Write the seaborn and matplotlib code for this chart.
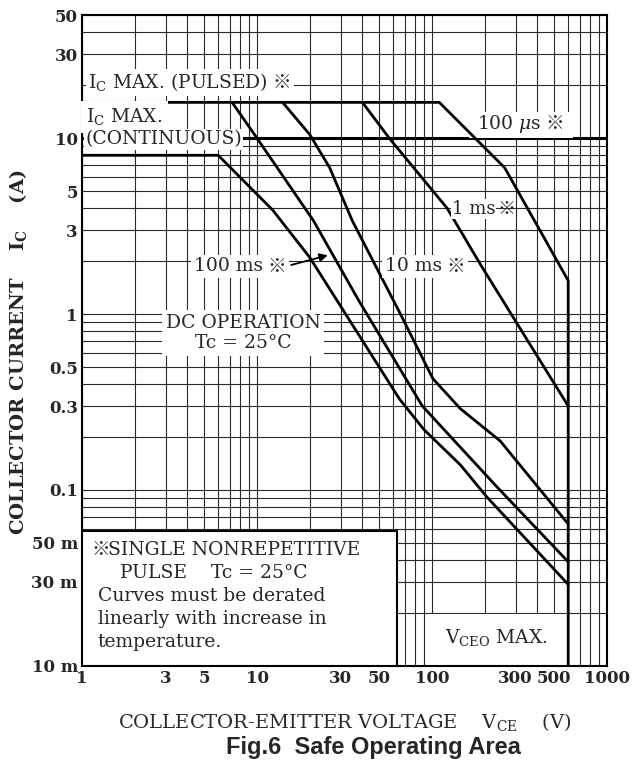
import numpy as np
import pandas as pd
import matplotlib
matplotlib.use('Agg')
import matplotlib.pyplot as plt
import matplotlib.ticker as mticker
from matplotlib.patches import Rectangle
import seaborn as sns

# Curvas: tension VCE (V) y corriente IC (A)
dc_v = [1, 6, 12.3, 20, 65, 90, 145, 206, 600]
dc_i = [8, 8, 3.9, 2.1, 0.33, 0.22, 0.139, 0.091, 0.029]
ms100_v = [7.2, 10, 21, 38, 88, 235, 600]
ms100_i = [16, 10, 3.4, 1.2, 0.3, 0.104, 0.039]
ms10_v = [14, 20, 26, 35, 66, 101, 145, 245, 600]
ms10_i = [16, 10.5, 6.8, 3.4, 1.0, 0.43, 0.29, 0.19, 0.064]
ms1_v = [40, 57, 122, 190, 600]
ms1_i = [16, 10, 4.0, 1.9, 0.3]
us100_v = [1, 110, 260, 600, 600]
us100_i = [16, 16, 6.8, 1.55, 0.01]
ic_cont = 10

x_ticks = [1, 3, 5, 10, 30, 50, 100, 300, 500, 1000]
x_labels = ['1', '3', '5', '10', '30', '50', '100', '300', '500', '1000']
y_ticks = [0.01, 0.03, 0.05, 0.1, 0.3, 0.5, 1, 3, 5, 10, 30, 50]
y_labels = ['10 m', '30 m', '50 m', '0.1', '0.3', '0.5', '1', '3', '5', '10', '30', '50']

curves = {
    'DC': (dc_v, dc_i),
    '100 ms': (ms100_v, ms100_i),
    '10 ms': (ms10_v, ms10_i),
    '1 ms': (ms1_v, ms1_i),
    '100 us': (us100_v, us100_i),
}
df = pd.concat([pd.DataFrame({'vce': v, 'ic': i, 'curve': name})
                for name, (v, i) in curves.items()], ignore_index=True)

SERIF = 'DejaVu Serif'
MARK_FONT = ['Noto Sans CJK JP', 'DejaVu Sans']

sns.set_style('white')
plt.rcParams['font.family'] = [SERIF, 'Noto Sans CJK JP', 'DejaVu Sans']
plt.rcParams['mathtext.fontset'] = 'custom'
plt.rcParams['mathtext.rm'] = SERIF
plt.rcParams['mathtext.it'] = SERIF + ':italic'
plt.rcParams['mathtext.bf'] = SERIF + ':bold'

fig = plt.figure(figsize=(6.41, 7.67), dpi=100)
ax = fig.add_axes([0.128, 0.132, 0.819, 0.848])
ax.set_xscale('log')
ax.set_yscale('log')

sns.lineplot(data=df, x='vce', y='ic', hue='curve', palette=['black'] * len(curves),
             sort=False, estimator=None, lw=2, legend=False, ax=ax, zorder=3)
ax.axhline(ic_cont, color='black', lw=2.2, zorder=2.8)

ax.set_xlim(1, 1000)
ax.set_ylim(0.01, 50)

# rejilla logaritmica completa
ax.xaxis.set_minor_locator(mticker.LogLocator(base=10, subs=np.arange(1, 10), numticks=50))
ax.yaxis.set_minor_locator(mticker.LogLocator(base=10, subs=np.arange(1, 10), numticks=50))
ax.xaxis.set_minor_formatter(mticker.NullFormatter())
ax.yaxis.set_minor_formatter(mticker.NullFormatter())
ax.set_xticks(x_ticks)
ax.set_xticklabels(x_labels)
ax.set_yticks(y_ticks)
ax.set_yticklabels(y_labels)
ax.grid(which='both', color='#2a2a2a', lw=0.8)
ax.set_axisbelow(True)
ax.tick_params(which='both', length=0, labelsize=12, pad=3)
for lab in ax.get_xticklabels() + ax.get_yticklabels():
    lab.set_fontweight('bold')
for sp in ax.spines.values():
    sp.set_color('black')
    sp.set_linewidth(1.5)
ax.set_xlabel('')
ax.set_ylabel('')

tfs = 13.5


def wbox(pad=0.15):
    return dict(facecolor='white', edgecolor='none', boxstyle=f'square,pad={pad}')


def add_mark(artist, gap=3, box=True, size=tfs):
    # el signo ※ va aparte porque la fuente serif no lo tiene
    return ax.annotate('※', xy=(1, 0.5), xycoords=artist, xytext=(gap, 0),
                       textcoords='offset points', ha='left', va='center',
                       family=MARK_FONT, fontsize=size,
                       bbox=wbox() if box else None, zorder=5)


t = ax.text(0.012, 0.897, r'$\mathrm{I_C}$ MAX. (PULSED)', transform=ax.transAxes,
            fontsize=tfs, va='center', ha='left', bbox=wbox(), zorder=5)
add_mark(t)
ax.text(0.008, 0.844, r'$\mathrm{I_C}$ MAX.', transform=ax.transAxes,
        fontsize=tfs, va='center', ha='left', bbox=wbox(0.3), zorder=5)
ax.text(0.006, 0.809, '(CONTINUOUS)', transform=ax.transAxes,
        fontsize=tfs, va='center', ha='left', bbox=wbox(0.06), zorder=5)

# hueco en la linea de 10 A detras de la etiqueta de 100 us
ax.add_patch(Rectangle((0.737, 0.812), 0.198, 0.04, transform=ax.transAxes,
                       facecolor='white', edgecolor='none', zorder=2.9))
t = ax.text(0.752, 0.833, r'100 $\mu$s', transform=ax.transAxes,
            fontsize=tfs, va='center', ha='left', zorder=5)
add_mark(t, box=False)
t = ax.text(0.704, 0.702, '1 ms', transform=ax.transAxes,
            fontsize=13, va='center', ha='left', bbox=wbox(0.05), zorder=5)
add_mark(t, gap=1.5, box=False, size=13)
t = ax.text(0.577, 0.614, '10 ms', transform=ax.transAxes,
            fontsize=tfs, va='center', ha='left', bbox=wbox(), zorder=5)
add_mark(t)
t = ax.text(0.213, 0.614, '100 ms', transform=ax.transAxes,
            fontsize=tfs, va='center', ha='left', bbox=wbox(), zorder=5)
m = add_mark(t)
ax.annotate('', xy=(25.4, 2.16), xycoords='data',
            xytext=(1, 0.5), textcoords=m,
            arrowprops=dict(arrowstyle='-|>', color='black', lw=1.3,
                            shrinkA=4, shrinkB=0, mutation_scale=12), zorder=5)
ax.text(0.307, 0.512, 'DC OPERATION\nTc = 25°C', transform=ax.transAxes,
        fontsize=tfs, va='center', ha='center', linespacing=1.15,
        bbox=wbox(0.2), zorder=5)

# recuadro inferior izquierdo
ax.add_patch(Rectangle((0, 0), 0.600, 0.207, transform=ax.transAxes, facecolor='white',
                       edgecolor='black', lw=1.5, zorder=4))
ax.text(0.018, 0.178, '※', transform=ax.transAxes, family=MARK_FONT,
        fontsize=tfs, va='center', ha='left', zorder=5)
notes = ['SINGLE NONREPETITIVE', '  PULSE    Tc = 25°C', 'Curves must be derated',
         'linearly with increase in', 'temperature.']
note_x = [0.050, 0.050, 0.030, 0.030, 0.030]
note_y = [0.178, 0.143, 0.107, 0.072, 0.036]
for txt, xx, yy in zip(notes, note_x, note_y):
    ax.text(xx, yy, txt, transform=ax.transAxes,
            fontsize=tfs, va='center', ha='left', zorder=5)

ax.add_patch(Rectangle((0.659, 0.0), 0.262, 0.080, transform=ax.transAxes,
                       facecolor='white', edgecolor='none', zorder=2.5))
ax.text(0.789, 0.043, r'$\mathrm{V_{CEO}}$ MAX.', transform=ax.transAxes,
        fontsize=tfs, va='center', ha='center', zorder=5)

fig.text(0.028, 0.541, r'COLLECTOR CURRENT    $\mathbf{I_C}$    (A)', rotation=90,
         fontsize=14, fontweight='bold', va='center', ha='center')
fig.text(0.538, 0.059, r'COLLECTOR-EMITTER VOLTAGE    $\mathrm{V_{CE}}$    (V)',
         fontsize=14, va='center', ha='center')
fig.text(0.582, 0.025, 'Fig.6  Safe Operating Area', family='Liberation Sans',
         fontsize=17, fontweight='bold', va='center', ha='center')

fig.savefig('out.png', dpi=100)
